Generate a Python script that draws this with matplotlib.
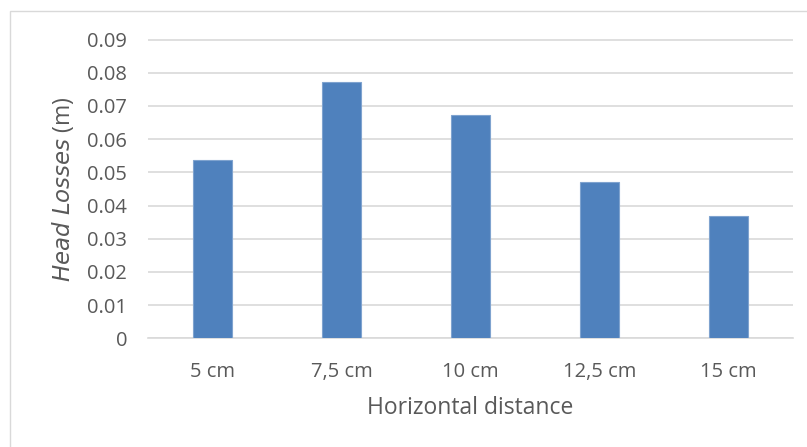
import matplotlib.pyplot as plt
from matplotlib.patches import Rectangle

distances = ["5 cm", "7,5 cm", "10 cm", "12,5 cm", "15 cm"]
head_losses = [0.0537, 0.0772, 0.0672, 0.0470, 0.0368]
y_ticks = [0, 0.01, 0.02, 0.03, 0.04, 0.05, 0.06, 0.07, 0.08, 0.09]
y_tick_labels = ["0", "0.01", "0.02", "0.03", "0.04", "0.05", "0.06", "0.07", "0.08", "0.09"]

plt.rcParams["font.family"] = ["Open Sans", "DejaVu Sans"]
text_color = "#595959"

fig = plt.figure(figsize=(8.07, 4.47), dpi=100)
fig.patches.append(Rectangle((10 / 807, -0.1), 1.2, 1 - 11 / 447 + 0.1, transform=fig.transFigure,
                             fill=False, edgecolor="#D9D9D9", linewidth=1))

ax = fig.add_axes([148 / 807, 108.7 / 447, 645 / 807, 298.8 / 447])
x = range(len(distances))
ax.bar(x, head_losses, width=0.31, color="#4F81BD", edgecolor="#7FA3CF", linewidth=0.8, zorder=3)

ax.set_xlim(-0.5, len(distances) - 0.5)
ax.set_ylim(0, 0.09)
ax.set_yticks(y_ticks)
ax.set_yticklabels(y_tick_labels)
ax.set_xticks(list(x))
ax.set_xticklabels(distances)
ax.grid(axis="y", color="#D9D9D9", linewidth=1.2, zorder=0)
ax.tick_params(length=0, labelsize=14.5, colors=text_color)
ax.tick_params(axis="y", pad=15)
ax.tick_params(axis="x", pad=17)

for side in ["top", "right", "left"]:
    ax.spines[side].set_visible(False)
ax.spines["bottom"].set_color("#D9D9D9")
ax.spines["bottom"].set_linewidth(1.2)

ax.set_xlabel("Horizontal distance", fontsize=16.5, color=text_color, labelpad=10)
ax.set_ylabel("$\\it{Head\\ Losses}$ (m)", fontsize=16.5, color=text_color, labelpad=8)

fig.savefig("out.png", dpi=100)
